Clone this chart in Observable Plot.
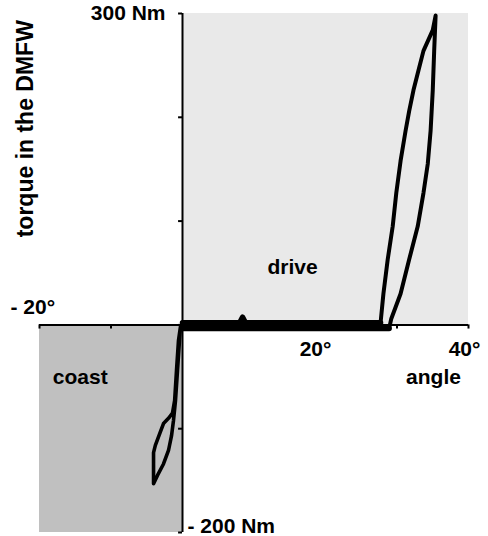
<!DOCTYPE html>
<html>
<head>
<meta charset="utf-8">
<script src="https://cdn.jsdelivr.net/npm/d3@7"></script>
<script src="https://cdn.jsdelivr.net/npm/@observablehq/plot@0.6"></script>
<style>
  html, body { margin: 0; padding: 0; background: #fff; }
  svg { overflow: visible; }
</style>
</head>
<body>
<div id="chart"></div>
<script>
// ---- data ----
const xTicks = [-20, -10, 0, 10, 20, 30, 40];
const yTicks = [-200, -100, 0, 100, 200, 300];

// drive: flat part (forward and return passes), degrees / Nm
const flatFwdAngle  = [0, 4, 8, 8.4, 8.8, 12, 16, 20, 24, 27.7];
const flatFwdTorque = [2, 2, 2, 7.5, 2, 2, 2, 2, 2, 2];
const flatBackAngle  = [28.9, 24, 20, 16, 12, 8, 4, 0];
const flatBackTorque = [-3.5, -3.5, -3.5, -3.5, -3.5, -3.5, -3.5, -3.5];

// drive: left branch (upwards) then right branch (downwards)
const driveUpAngle  = [27.7, 28.1, 28.7, 29.4, 29.9, 30.5, 31.2, 31.7, 32.3, 33.0, 33.7, 35.0, 35.4];
const driveUpTorque = [2, 30, 63, 95, 127, 158, 187, 206, 226, 245, 264, 284, 298];
const driveDownAngle  = [35.4, 35.2, 35.0, 34.7, 34.3, 33.7, 32.9, 31.7, 30.5, 29.8, 29.2, 28.9];
const driveDownTorque = [298, 264, 226, 187, 155, 127, 95, 63, 30, 17, 6, -3.5];

// coast loop
const coastAngle  = [-0.2, -0.28, -0.56, -0.84, -1.1, -1.4, -1.96, -2.66, -3.2, -3.8, -4.05, -4.05,
                     -3.5, -2.66, -1.96, -1.54, -1.26, -0.98, -0.7, -0.42, -0.28, -0.2];
const coastTorque = [-1, -1.5, -15, -44, -73, -85, -90, -95, -105, -116, -123, -153,
                     -145, -134, -121, -107, -92, -73, -44, -15, -1.5, -1];

// shaded regions
const regionX1 = [0, -20];
const regionX2 = [40, 0];
const regionY1 = [0, -200];
const regionY2 = [300, 0];
const regionFill = ["#e9e9e9", "#c0c0c0"];

// annotation labels
const noteText  = ["drive", "coast", "angle"];
const noteAngle = [15.4, -14.3, 35.1];
const noteTorque = [48.6, -56.5, -56.5];

// ---- build tables ----
const regions = regionX1.map((x1, i) => ({x1, x2: regionX2[i], y1: regionY1[i], y2: regionY2[i], fill: regionFill[i]}));
const toPts = (a, t) => a.map((x, i) => ({x, y: t[i]}));
const flatFwd = toPts(flatFwdAngle, flatFwdTorque);
const flatBack = toPts(flatBackAngle, flatBackTorque);
const drive = toPts(driveUpAngle, driveUpTorque).concat(toPts(driveDownAngle, driveDownTorque));
const coast = toPts(coastAngle, coastTorque);
const notes = noteText.map((text, i) => ({text, x: noteAngle[i], y: noteTorque[i]}));

const font = "Liberation Sans, Arial, sans-serif";
const fs = 21;

const chart = Plot.plot({
  width: 488,
  height: 536,
  marginLeft: 39,
  marginRight: 20,
  marginTop: 13,
  marginBottom: 4,
  x: {domain: [-20, 40], axis: null},
  y: {domain: [-200, 300], axis: null},
  style: {fontFamily: font, background: "white"},
  marks: [
    Plot.rect(regions, {x1: "x1", x2: "x2", y1: "y1", y2: "y2", fill: d => d.fill}),
    // axes lines
    Plot.ruleY([0], {x1: -20, x2: 40, stroke: "black", strokeWidth: 2}),
    Plot.ruleX([0], {y1: -200, y2: 300, stroke: "black", strokeWidth: 2}),
    // ticks
    Plot.ruleY(yTicks, {y: d => d, x1: -0.55, x2: 0, stroke: "black", strokeWidth: 2}),
    Plot.ruleX(xTicks, {x: d => d, y1: 0, y2: -4, stroke: "black", strokeWidth: 2}),
    // curves
    Plot.line(flatFwd, {x: "x", y: "y", stroke: "black", strokeWidth: 5.5, curve: "linear"}),
    Plot.line(flatBack, {x: "x", y: "y", stroke: "black", strokeWidth: 5.5, curve: "linear"}),
    Plot.line(drive, {x: "x", y: "y", stroke: "black", strokeWidth: 4, strokeLinejoin: "round", curve: "linear"}),
    Plot.line(coast, {x: "x", y: "y", stroke: "black", strokeWidth: 3.6, strokeLinejoin: "round", curve: "linear"}),
    // tick labels
    Plot.text([300], {x: 0, y: d => d, text: () => "300 Nm", textAnchor: "end", lineAnchor: "middle", dx: -17, fontSize: fs, fontWeight: "bold", fill: "black"}),
    Plot.text([-200], {x: 0, y: d => d, text: () => "- 200 Nm", textAnchor: "start", lineAnchor: "middle", dx: 5, dy: -6, fontSize: fs, fontWeight: "bold", fill: "black"}),
    Plot.text([-20], {x: d => d, y: 0, text: () => "- 20°", textAnchor: "start", lineAnchor: "bottom", dx: -29, dy: -11, fontSize: fs, fontWeight: "bold", fill: "black"}),
    Plot.text([20], {x: d => d, y: 0, text: () => "20°", textAnchor: "middle", lineAnchor: "bottom", dx: -10, dy: 31, fontSize: fs, fontWeight: "bold", fill: "black"}),
    Plot.text([40], {x: d => d, y: 0, text: () => "40°", textAnchor: "middle", lineAnchor: "bottom", dx: -4, dy: 31, fontSize: fs, fontWeight: "bold", fill: "black"}),
    // annotations
    Plot.text(notes, {x: "x", y: "y", text: "text", textAnchor: "middle", lineAnchor: "bottom", fontSize: fs, fontWeight: "bold", fill: "black"}),
    // y title
    Plot.text(["torque in the DMFW"], {x: -22, y: 189, text: d => d, rotate: -90, textAnchor: "middle", lineAnchor: "middle", fontSize: 23, fontWeight: "bold", fill: "black"})
  ]
});
document.getElementById("chart").appendChild(chart);
</script>
</body>
</html>
